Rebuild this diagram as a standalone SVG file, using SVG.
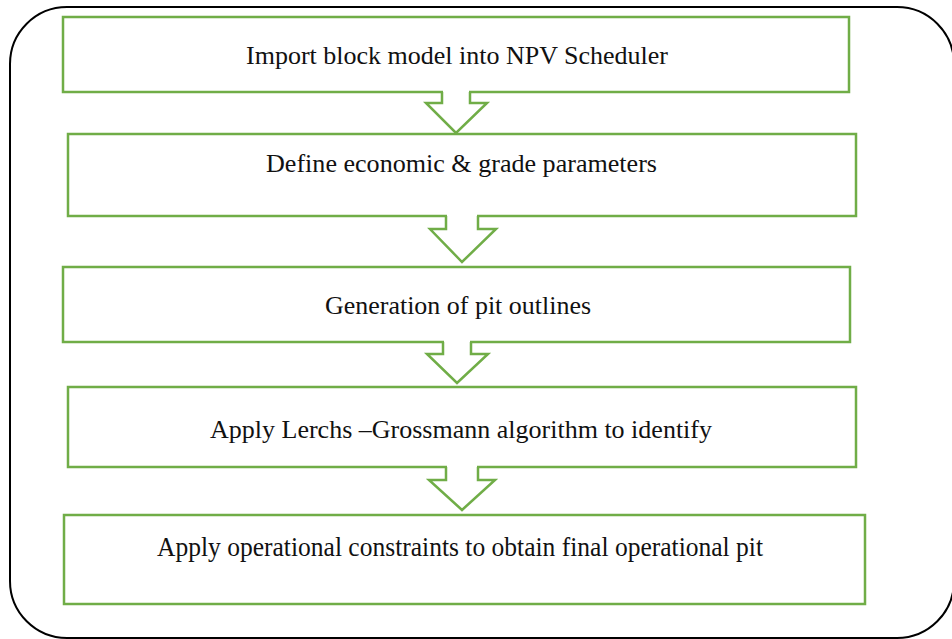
<svg xmlns="http://www.w3.org/2000/svg" width="952" height="639" viewBox="0 0 952 639">
<style>
.box{fill:#fff;stroke:#70AD47;stroke-width:2.5}
.arr{fill:none;stroke:#70AD47;stroke-width:2.5;stroke-linejoin:miter}
.cover{fill:#fff;stroke:none}
.t{font-family:"Liberation Serif","Times New Roman",serif;font-size:26px;fill:#111;text-anchor:middle}
</style>
<rect x="10" y="7" width="944" height="631" rx="57" ry="57" fill="#fff" stroke="#000" stroke-width="2"/>
<g id="n1"><rect class="box" x="63" y="17" width="786" height="75"/><text class="t" x="457" y="64" textLength="422" lengthAdjust="spacingAndGlyphs">Import block model into NPV Scheduler</text></g>
<g id="n2"><rect class="box" x="68" y="134" width="788" height="82"/><text class="t" x="461.5" y="172" textLength="391" lengthAdjust="spacingAndGlyphs">Define economic &amp; grade parameters</text></g>
<g id="n3"><rect class="box" x="63" y="267" width="787" height="75"/><text class="t" x="458" y="314" textLength="266" lengthAdjust="spacingAndGlyphs">Generation of pit outlines</text></g>
<g id="n4"><rect class="box" x="68" y="387" width="788" height="80"/><text class="t" x="461" y="438" textLength="502" lengthAdjust="spacingAndGlyphs">Apply Lerchs –Grossmann algorithm to identify</text></g>
<g id="n5"><rect class="box" x="64" y="515" width="801" height="89"/><text class="t" x="460" y="556" style="font-size:27px" textLength="606" lengthAdjust="spacingAndGlyphs">Apply operational constraints to obtain final operational pit</text></g>
<g id="connectors">
<polygon class="cover" points="443,90 469,90 469,103 487,103 456,133 426,103 443,103"/>
<path class="arr" d="M442,92 V103 H426 L456,133 L487,103 H470 V92"/>
<polygon class="cover" points="447,214 477,214 477,229 496,229 462,262 430,229 447,229"/>
<path class="arr" d="M446,216 V229 H430 L462,262 L496,229 H478 V216"/>
<polygon class="cover" points="444,340 470,340 470,354 488,354 457,383 427,354 444,354"/>
<path class="arr" d="M443,342 V354 H427 L457,383 L488,354 H471 V342"/>
<polygon class="cover" points="447,465 477,465 477,480 495,480 462,510 429,480 447,480"/>
<path class="arr" d="M446,467 V480 H429 L462,510 L495,480 H478 V467"/>
</g>
</svg>
